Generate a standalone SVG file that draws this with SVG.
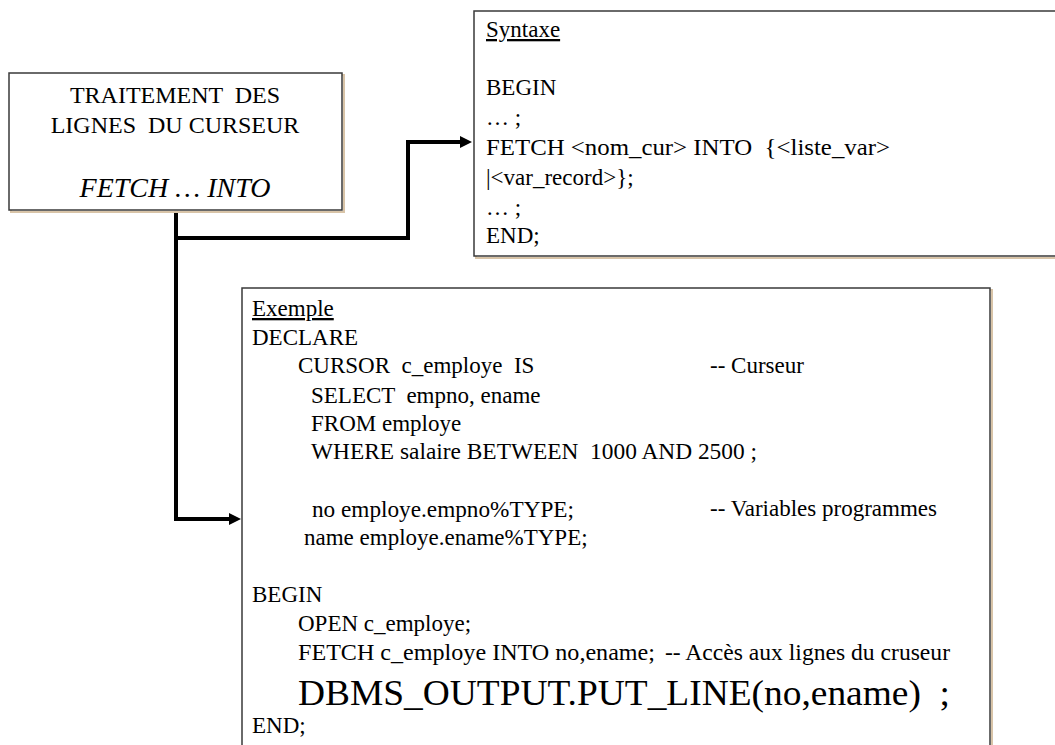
<svg xmlns="http://www.w3.org/2000/svg" width="1055" height="745" viewBox="0 0 1055 745">
<style>
.box{fill:#fff;stroke:#3a3a3a;stroke-width:1.5}
.shadow{fill:none;stroke:#d8c4a8;stroke-width:2}
text{font-family:'Liberation Serif','Times New Roman',Tinos,'DejaVu Serif',serif;font-size:23px;fill:#000}
.c{text-anchor:middle;font-size:24px}
.u{text-decoration:underline}
.conn{fill:none;stroke:#000;stroke-width:4;stroke-linejoin:miter}
</style>
<defs>
<marker id="arr" markerUnits="userSpaceOnUse" markerWidth="12" markerHeight="12" refX="2" refY="6" orient="auto">
<path d="M0,0 L12,6 L0,12 z" fill="#000"/>
</marker>
</defs>
<rect width="1055" height="745" fill="#fff"/>

<g id="connectors">
<path class="conn" d="M176 211 V238 H408 V142 H462" marker-end="url(#arr)"/>
<path class="conn" d="M176 236 V519 H231" marker-end="url(#arr)"/>
</g>

<g id="node-traitement">
<rect class="shadow" x="11" y="75" width="333" height="137"/>
<rect class="box" x="9" y="73" width="333" height="137"/>
<text class="c" x="175" y="103" xml:space="preserve">TRAITEMENT  DES</text>
<text class="c" x="175" y="133" xml:space="preserve">LIGNES  DU CURSEUR</text>
<text class="c" x="175" y="197" style="font-size:28px;font-style:italic">FETCH … INTO</text>
</g>

<g id="node-syntaxe">
<rect class="shadow" x="476" y="13" width="600" height="245"/>
<rect class="box" x="474" y="11" width="600" height="245"/>
<text class="u" x="486" y="37">Syntaxe</text>
<text x="486" y="95">BEGIN</text>
<text x="486" y="125">… ;</text>
<text x="486" y="155" xml:space="preserve" textLength="404" lengthAdjust="spacingAndGlyphs">FETCH &lt;nom_cur&gt; INTO  {&lt;liste_var&gt;</text>
<text x="486" y="185">|&lt;var_record&gt;};</text>
<text x="486" y="215">… ;</text>
<text x="486" y="243">END;</text>
</g>

<g id="node-exemple">
<rect class="shadow" x="244" y="290" width="748" height="470"/>
<rect class="box" x="242" y="288" width="748" height="470"/>
<text class="u" x="252" y="316">Exemple</text>
<text x="252" y="345">DECLARE</text>
<text x="298" y="373" xml:space="preserve">CURSOR  c_employe  IS</text>
<text x="710" y="373">-- Curseur</text>
<text x="311" y="403" xml:space="preserve">SELECT  empno, ename</text>
<text x="311" y="431">FROM employe</text>
<text x="311" y="459" xml:space="preserve" textLength="446" lengthAdjust="spacingAndGlyphs">WHERE salaire BETWEEN  1000 AND 2500 ;</text>
<text x="312" y="517" textLength="262" lengthAdjust="spacingAndGlyphs">no employe.empno%TYPE;</text>
<text x="710" y="516">-- Variables programmes</text>
<text x="304" y="545">name employe.ename%TYPE;</text>
<text x="252" y="602">BEGIN</text>
<text x="298" y="631">OPEN c_employe;</text>
<text x="298" y="660" textLength="357" lengthAdjust="spacingAndGlyphs">FETCH c_employe INTO no,ename;</text>
<text x="665" y="660" textLength="285" lengthAdjust="spacingAndGlyphs">-- Accès aux lignes du cruseur</text>
<text x="298" y="705" xml:space="preserve" style="font-size:36px" textLength="652" lengthAdjust="spacingAndGlyphs">DBMS_OUTPUT.PUT_LINE(no,ename)  ;</text>
<text x="252" y="733">END;</text>
</g>
</svg>
